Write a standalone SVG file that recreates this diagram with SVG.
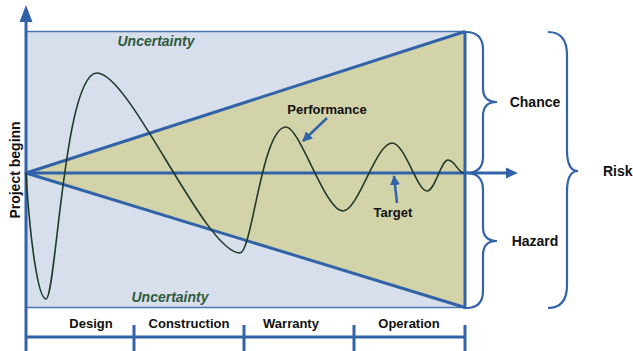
<svg xmlns="http://www.w3.org/2000/svg" width="633" height="351" viewBox="0 0 633 351">
<defs>
<style>
.ax{stroke:#3263A8;stroke-width:3;fill:none}
.ln{stroke:#3263A8;stroke-width:3;fill:none;stroke-linejoin:round}
.br{stroke:#3263A8;stroke-width:2.2;fill:none}
.lbl{font-family:"Liberation Sans",Arial,sans-serif;font-weight:bold;font-size:13px;fill:#111}
.big{font-size:14px}
.unc{font-family:"Liberation Sans",Arial,sans-serif;font-weight:bold;font-style:italic;font-size:14px;fill:#2E5A3C}
</style>
<marker id="ah" viewBox="0 0 10 10" refX="9" refY="5" markerWidth="4" markerHeight="4" orient="auto">
<path d="M0,0 L10,5 L0,10 Z" fill="#3263A8"/>
</marker>
</defs>
<rect width="633" height="351" fill="#fff"/>
<g id="background">
<rect x="26" y="31.5" width="439" height="276" fill="#D6DFEB" stroke="#4A74B2" stroke-width="1.5"/>
<polygon points="26,173 465,31.5 465,307.5" fill="#D3D3AA"/>
</g>
<g id="connectors">
<polyline class="ln" points="465,31.5 26,173 465,307.5 465,31.5"/>
<line class="ax" x1="26" y1="351" x2="26" y2="18"/>
<polygon points="26,5 19.5,22 32.5,22" fill="#3263A8"/>
<line class="ax" x1="26" y1="173" x2="508" y2="173"/>
<polygon points="518,173 506,167.5 506,178.5" fill="#3263A8"/>
<line class="ax" x1="26" y1="337" x2="465" y2="337"/>
<line class="ax" x1="134" y1="325" x2="134" y2="351"/>
<line class="ax" x1="244" y1="325" x2="244" y2="351"/>
<line class="ax" x1="354" y1="325" x2="354" y2="351"/>
<line class="ax" x1="465" y1="325" x2="465" y2="351"/>
<path d="M26,173 C30,240 38,299 46,299 C56,299 64,73 97,73 C130,73 205,253 240,253 C252,253 262,127 286,127 C300,127 325,211 343,211 C358,211 376,143 392,143 C405,143 417,191 427,191 C435,191 441,160 448,160 C455,160 458,173 464,173" fill="none" stroke="#1E3A2A" stroke-width="1.6"/>
<line x1="327" y1="118" x2="303" y2="141" stroke="#3263A8" stroke-width="2.5" marker-end="url(#ah)"/>
<line x1="397" y1="203" x2="394" y2="176" stroke="#3263A8" stroke-width="2.5" marker-end="url(#ah)"/>
<path class="br" d="M466,32 Q483,32 483,50 L483,88 Q483,102 497,102 Q483,102 483,116 L483,157 Q483,173 466,173"/>
<path class="br" d="M466,173 Q483,173 483,190 L483,227 Q483,241 497,241 Q483,241 483,255 L483,291 Q483,308 466,308"/>
<path class="br" d="M548,32 Q567,32 567,55 L567,150 Q567,171 578,171 Q567,171 567,192 L567,285 Q567,308 548,308"/>
</g>
<g id="labels">
<text class="unc" x="156" y="46" text-anchor="middle">Uncertainty</text>
<text class="unc" x="170" y="302" text-anchor="middle">Uncertainty</text>
<text class="lbl" x="91" y="328" text-anchor="middle">Design</text>
<text class="lbl" x="189" y="328" text-anchor="middle">Construction</text>
<text class="lbl" x="291" y="328" text-anchor="middle">Warranty</text>
<text class="lbl" x="409" y="328" text-anchor="middle">Operation</text>
<text class="lbl" x="327" y="114" text-anchor="middle">Performance</text>
<text class="lbl" x="393" y="217" text-anchor="middle">Target</text>
<text class="lbl big" x="535" y="107" text-anchor="middle">Chance</text>
<text class="lbl big" x="535" y="246" text-anchor="middle">Hazard</text>
<text class="lbl big" x="603" y="176">Risk</text>
<text class="lbl big" transform="translate(20,170) rotate(-90)" text-anchor="middle">Project beginn</text>
</g>
</svg>
